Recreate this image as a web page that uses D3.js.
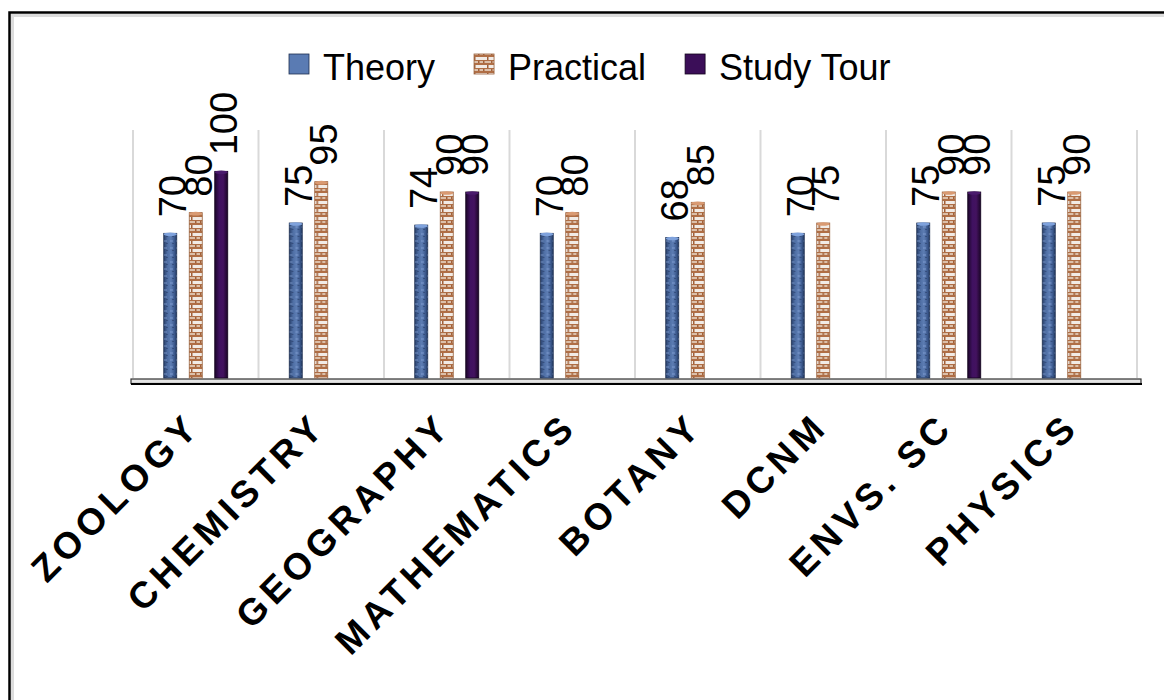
<!DOCTYPE html>
<html>
<head>
<meta charset="utf-8">
<script src="https://cdn.jsdelivr.net/npm/d3@7"></script>
<style>
  html, body { margin: 0; padding: 0; background: #fff; }
  svg { display: block; font-family: "Liberation Sans", Arial, sans-serif; }
</style>
</head>
<body>
<svg id="chart" width="1164" height="700"></svg>
<script>
const categories = ["ZOOLOGY", "CHEMISTRY", "GEOGRAPHY", "MATHEMATICS", "BOTANY", "DCNM", "ENVS. SC", "PHYSICS"];
const seriesNames = ["Theory", "Practical", "Study Tour"];
const theory    = [70, 75, 74, 70, 68, 70, 75, 75];
const practical = [80, 95, 90, 80, 85, 75, 90, 90];
const studyTour = [100, null, 90, null, null, null, 90, null];
const yDomain = [0, 120];

const seriesValues = [theory, practical, studyTour];
const data = categories.map((c, i) => ({
  cat: c,
  vals: seriesNames.map((s, k) => ({ s, k, v: seriesValues[k][i] }))
}));

const svg = d3.select("#chart");
const defs = svg.append("defs");

// Theory: blue stone-like gradient
const gT = defs.append("linearGradient").attr("id", "gTheory").attr("x1", 0).attr("x2", 1).attr("y1", 0).attr("y2", 0);
[[0, "#263d68"], [0.3, "#4f6fa5"], [0.55, "#5d7db3"], [0.8, "#3f5d92"], [1, "#223860"]]
  .forEach(([o, c]) => gT.append("stop").attr("offset", o).attr("stop-color", c));
const pT = defs.append("pattern").attr("id", "pTheory").attr("patternUnits", "userSpaceOnUse").attr("width", 6).attr("height", 7);
pT.append("rect").attr("width", 6).attr("height", 7).attr("fill", "rgba(255,255,255,0)");
pT.append("rect").attr("x", 1).attr("y", 2).attr("width", 3).attr("height", 2).attr("fill", "rgba(140,170,220,0.35)");
pT.append("rect").attr("x", 3).attr("y", 5).attr("width", 2).attr("height", 1).attr("fill", "rgba(20,35,70,0.35)");

// Practical: brick pattern
const pP = defs.append("pattern").attr("id", "pPractical").attr("patternUnits", "userSpaceOnUse").attr("width", 13).attr("height", 8);
pP.append("rect").attr("width", 13).attr("height", 8).attr("fill", "#b06e45");
pP.append("rect").attr("x", 0).attr("y", 1).attr("width", 13).attr("height", 3).attr("fill", "#f1ebe6");
pP.append("rect").attr("x", 0).attr("y", 5).attr("width", 13).attr("height", 2).attr("fill", "#dcc0aa");
pP.append("rect").attr("x", 6).attr("y", 1).attr("width", 1.5).attr("height", 3).attr("fill", "#a0603a");
pP.append("rect").attr("x", 2).attr("y", 5).attr("width", 1.5).attr("height", 2).attr("fill", "#a0603a");
pP.append("rect").attr("x", 10).attr("y", 5).attr("width", 1.5).attr("height", 2).attr("fill", "#a0603a");

// Study tour: dark purple
const gS = defs.append("linearGradient").attr("id", "gStudy").attr("x1", 0).attr("x2", 1).attr("y1", 0).attr("y2", 0);
[[0, "#1c0629"], [0.35, "#3f1160"], [0.65, "#43125f"], [1, "#1a0526"]]
  .forEach(([o, c]) => gS.append("stop").attr("offset", o).attr("stop-color", c));

const fills = ["url(#gTheory)", "url(#pPractical)", "url(#gStudy)"];
const strokes = ["#1f3050", "#98603c", "#12031c"];
const legendFills = ["#5a7bb3", "#c98a5c", "#3b0e58"];

// Frame
svg.append("rect").attr("x", 12.5).attr("y", 15.5).attr("width", 1300).attr("height", 900)
  .attr("fill", "none").attr("stroke", "#dcdcdc").attr("stroke-width", 3);
svg.append("rect").attr("x", 9.5).attr("y", 12.5).attr("width", 1300).attr("height", 900)
  .attr("fill", "none").attr("stroke", "#000").attr("stroke-width", 2.5);

// Scales
const x0 = d3.scaleBand().domain(categories).range([133, 1137]).padding(0);
const x1 = d3.scaleBand().domain(seriesNames).range([24.5, 101]).paddingInner(0.49).paddingOuter(0.245);
const y = d3.scaleLinear().domain(yDomain).range([378, 130]);

// Vertical gridlines at category boundaries
const bounds = categories.map(c => x0(c)).concat([x0.range()[1]]);
svg.append("g").selectAll("line").data(bounds).join("line")
  .attr("x1", d => d).attr("x2", d => d)
  .attr("y1", y(yDomain[1])).attr("y2", y(0))
  .attr("stroke", "#d9d9d9").attr("stroke-width", 2);

// Floor (3D base)
svg.append("rect").attr("x", x0.range()[0] - 2).attr("y", y(0) + 1).attr("width", x0.range()[1] - x0.range()[0] + 6).attr("height", 4.5)
  .attr("fill", "#e4e4e4").attr("stroke", "#333").attr("stroke-width", 1.2);
svg.append("line").attr("x1", x0.range()[0] - 2).attr("x2", x0.range()[1] + 5)
  .attr("y1", y(0) + 6).attr("y2", y(0) + 6).attr("stroke", "#000").attr("stroke-width", 2);

// Bars
const groups = svg.append("g").selectAll("g").data(data).join("g")
  .attr("transform", d => `translate(${x0(d.cat)},0)`);

const bars = groups.selectAll("g.bar").data(d => d.vals.filter(v => v.v != null)).join("g").attr("class", "bar");
bars.append("rect")
  .attr("x", d => x1(d.s))
  .attr("y", d => y(d.v))
  .attr("width", x1.bandwidth())
  .attr("height", d => y(0) - y(d.v))
  .attr("fill", d => fills[d.k])
  .attr("stroke", d => strokes[d.k])
  .attr("stroke-width", 0.8);
bars.filter(d => d.k === 0).append("rect")
  .attr("x", d => x1(d.s))
  .attr("y", d => y(d.v))
  .attr("width", x1.bandwidth())
  .attr("height", d => y(0) - y(d.v))
  .attr("fill", "url(#pTheory)");
// top caps
bars.append("ellipse")
  .attr("cx", d => x1(d.s) + x1.bandwidth() / 2)
  .attr("cy", d => y(d.v) + 1)
  .attr("rx", x1.bandwidth() / 2)
  .attr("ry", 1.8)
  .attr("fill", d => ["#7fa2dc", "#d99a72", "#4a1a6c"][d.k]);

// Value labels
bars.append("text")
  .attr("transform", d => `translate(${x1(d.s) + x1.bandwidth() / 2 + 16},${y(d.v) - 16}) rotate(-90)`)
  .attr("text-anchor", "start")
  .attr("font-size", 38)
  .attr("fill", "#000")
  .text(d => d.v);

// Category labels
svg.append("g").selectAll("text").data(categories).join("text")
  .attr("transform", c => `translate(${x0(c) + x0.bandwidth() / 2 + 6.5},${428.5}) rotate(-45)`)
  .attr("text-anchor", "end")
  .attr("font-size", 37)
  .attr("font-weight", "bold")
  .attr("letter-spacing", 5)
  .attr("fill", "#000")
  .text(c => c);

// Legend
const legend = svg.append("g");
let lx = 289;
seriesNames.forEach((s, k) => {
  legend.append("rect").attr("x", lx).attr("y", 54).attr("width", 20).attr("height", 20)
    .attr("fill", k === 1 ? "url(#pPractical)" : legendFills[k])
    .attr("stroke", strokes[k]).attr("stroke-width", 0.8);
  const t = legend.append("text").attr("x", lx + 34).attr("y", 80)
    .attr("font-size", 36).attr("fill", "#000").text(s);
  lx = lx + 34 + t.node().getComputedTextLength() + 39;
});
</script>
</body>
</html>
